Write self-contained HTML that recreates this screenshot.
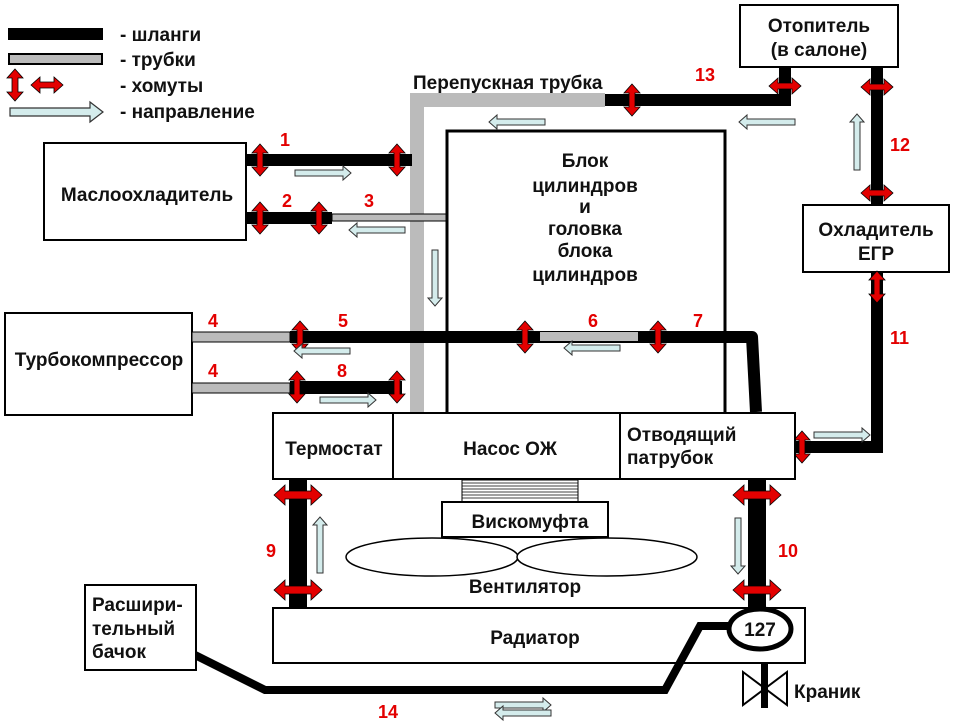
<!DOCTYPE html>
<html><head><meta charset="utf-8"><style>
html,body{margin:0;padding:0;background:#fff}
svg{display:block}
text{font-family:"Liberation Sans",sans-serif;font-weight:bold}
.lb{font-size:19px;fill:#111}
.rd{font-size:18px;fill:#e30000}
.b{fill:#fff;stroke:#000;stroke-width:2}
</style></head><body>
<svg width="960" height="725" viewBox="0 0 960 725" xmlns="http://www.w3.org/2000/svg">
<defs>
<polygon id="cv" points="0,-16 8,-7 3,-7 3,7 8,7 0,16 -8,7 -3,7 -3,-7 -8,-7" fill="#e30000" stroke="#000" stroke-width="0.8"/>
<polygon id="ch" points="-16,0 -7,-8 -7,-3 7,-3 7,-8 16,0 7,8 7,3 -7,3 -7,8" fill="#e30000" stroke="#000" stroke-width="0.8"/>
<polygon id="chb" points="-24,0 -13,-10 -13,-4 13,-4 13,-10 24,0 13,10 13,4 -13,4 -13,10" fill="#e30000" stroke="#000" stroke-width="0.8"/>
<polygon id="ar" points="0,-3 48,-3 48,-7 56,0 48,7 48,3 0,3" fill="#d4ecec" stroke="#333" stroke-width="1"/>
</defs>

<!-- legend -->
<rect x="8" y="28" width="95" height="12" fill="#000"/>
<rect x="9" y="54" width="93" height="10" fill="#bbb" stroke="#000" stroke-width="2"/>
<use href="#cv" x="15" y="85"/>
<use href="#ch" x="47" y="85"/>
<polygon points="10,108 90,108 90,102 103,112 90,122 90,116 10,116" fill="#d4ecec" stroke="#333" stroke-width="1.2"/>
<text class="lb" x="120" y="41">- шланги</text>
<text class="lb" x="120" y="66">- трубки</text>
<text class="lb" x="120" y="92">- хомуты</text>
<text class="lb" x="120" y="118">- направление</text>

<!-- bypass pipe -->
<path d="M417,412 L417,100 L605,100" fill="none" stroke="#bbb" stroke-width="14"/>
<text class="lb" x="413" y="89">Перепускная трубка</text>
<path d="M605,100 L785,100 L785,67" fill="none" stroke="#000" stroke-width="12"/>
<use href="#cv" x="632" y="100"/>
<use href="#ch" x="785" y="86"/>
<text class="rd" x="695" y="81">13</text>

<!-- oil cooler -->
<rect class="b" x="44" y="143" width="202" height="97"/>
<text class="lb" x="147" y="201" text-anchor="middle">Маслоохладитель</text>
<rect x="246" y="154" width="166" height="12" fill="#000"/>
<use href="#cv" x="260" y="160"/>
<use href="#cv" x="397" y="160"/>
<text class="rd" x="280" y="146">1</text>
<use href="#ar" x="295" y="173"/>
<rect x="246" y="212" width="86" height="12" fill="#000"/>
<rect x="332" y="214" width="115" height="7" fill="#bbb" stroke="#000" stroke-width="1"/>
<use href="#cv" x="260" y="218"/>
<use href="#cv" x="319" y="218"/>
<text class="rd" x="282" y="207">2</text>
<text class="rd" x="364" y="207">3</text>
<use href="#ar" transform="translate(405,230) scale(-1,1)"/>

<!-- block -->
<rect x="447" y="131" width="278" height="283" fill="#fff" stroke="#000" stroke-width="3"/>
<text class="lb" x="585" y="167" text-anchor="middle">Блок</text>
<text class="lb" x="585" y="192" text-anchor="middle">цилиндров</text>
<text class="lb" x="585" y="213" text-anchor="middle">и</text>
<text class="lb" x="585" y="235" text-anchor="middle">головка</text>
<text class="lb" x="585" y="257" text-anchor="middle">блока</text>
<text class="lb" x="585" y="281" text-anchor="middle">цилиндров</text>
<use href="#ar" transform="translate(545,122) scale(-1,1)"/>
<use href="#ar" transform="translate(795,122) scale(-1,1)"/>
<use href="#ar" transform="translate(435,250) rotate(90)"/>

<!-- heater -->
<rect class="b" x="740" y="5" width="158" height="62"/>
<text class="lb" x="819" y="32" text-anchor="middle">Отопитель</text>
<text class="lb" x="819" y="56" text-anchor="middle">(в салоне)</text>
<rect x="871" y="67" width="12" height="138" fill="#000"/>
<use href="#ch" x="877" y="87"/>
<use href="#ch" x="877" y="193"/>
<text class="rd" x="890" y="151">12</text>
<use href="#ar" transform="translate(857,170) rotate(-90)"/>
<rect class="b" x="803" y="205" width="146" height="67"/>
<text class="lb" x="876" y="236" text-anchor="middle">Охладитель</text>
<text class="lb" x="876" y="260" text-anchor="middle">ЕГР</text>
<path d="M877,272 L877,447 L792,447" fill="none" stroke="#000" stroke-width="12"/>
<use href="#cv" x="877" y="287"/>
<use href="#cv" x="802" y="447"/>
<text class="rd" x="890" y="344">11</text>
<use href="#ar" x="814" y="435"/>

<!-- turbo -->
<rect class="b" x="5" y="313" width="187" height="102"/>
<text class="lb" x="99" y="366" text-anchor="middle">Турбокомпрессор</text>
<rect x="192" y="332" width="98" height="10" fill="#bbb" stroke="#000" stroke-width="1"/>
<path d="M290,337 L752,337 L756,412" fill="none" stroke="#000" stroke-width="12" stroke-linejoin="round"/>
<rect x="540" y="332" width="98" height="9" fill="#bbb"/>
<use href="#cv" x="300" y="337"/>
<use href="#cv" x="525" y="337"/>
<use href="#cv" x="658" y="337"/>
<text class="rd" x="208" y="327">4</text>
<text class="rd" x="338" y="327">5</text>
<text class="rd" x="588" y="327">6</text>
<text class="rd" x="693" y="327">7</text>
<use href="#ar" transform="translate(350,351) scale(-1,1)"/>
<use href="#ar" transform="translate(620,348) scale(-1,1)"/>
<rect x="192" y="383" width="98" height="10" fill="#bbb" stroke="#000" stroke-width="1"/>
<rect x="290" y="381" width="112" height="13" fill="#000"/>
<use href="#cv" x="297" y="387"/>
<use href="#cv" x="397" y="387"/>
<text class="rd" x="208" y="377">4</text>
<text class="rd" x="337" y="377">8</text>
<use href="#ar" x="320" y="400"/>

<!-- bottom row -->
<rect x="273" y="413" width="120" height="66" class="b" stroke-width="3"/>
<rect x="393" y="413" width="227" height="66" class="b" stroke-width="3"/>
<rect x="620" y="413" width="175" height="66" class="b" stroke-width="3"/>
<text class="lb" x="334" y="455" text-anchor="middle">Термостат</text>
<text class="lb" x="510" y="455" text-anchor="middle">Насос ОЖ</text>
<text class="lb" x="627" y="441">Отводящий</text>
<text class="lb" x="627" y="464">патрубок</text>

<!-- viscous -->
<rect x="462" y="480" width="116" height="22" fill="#fff" stroke="#000" stroke-width="1"/>
<g stroke="#000" stroke-width="0.8">
<line x1="462" y1="483" x2="578" y2="483"/><line x1="462" y1="486" x2="578" y2="486"/>
<line x1="462" y1="489" x2="578" y2="489"/><line x1="462" y1="492" x2="578" y2="492"/>
<line x1="462" y1="495" x2="578" y2="495"/><line x1="462" y1="498" x2="578" y2="498"/>
</g>
<rect class="b" x="442" y="502" width="166" height="35"/>
<text class="lb" x="530" y="528" text-anchor="middle">Вискомуфта</text>
<ellipse cx="432" cy="557" rx="86" ry="19" fill="#fff" stroke="#000" stroke-width="1.5"/>
<ellipse cx="607" cy="557" rx="90" ry="19" fill="#fff" stroke="#000" stroke-width="1.5"/>
<text class="lb" x="525" y="593" text-anchor="middle">Вентилятор</text>

<!-- hoses 9,10 -->
<rect x="289" y="479" width="18" height="130" fill="#000"/>
<use href="#chb" x="298" y="495"/>
<use href="#chb" x="298" y="590"/>
<text class="rd" x="266" y="557">9</text>
<use href="#ar" transform="translate(320,573) rotate(-90)"/>
<rect x="748" y="479" width="18" height="130" fill="#000"/>
<use href="#chb" x="757" y="495"/>
<use href="#chb" x="757" y="590"/>
<text class="rd" x="778" y="557">10</text>
<use href="#ar" transform="translate(738,518) rotate(90)"/>

<!-- radiator -->
<rect class="b" x="273" y="608" width="532" height="55"/>
<text class="lb" x="535" y="644" text-anchor="middle">Радиатор</text>
<path d="M730,626 L700,626 L665,690 L265,690 L195,655" fill="none" stroke="#000" stroke-width="8" stroke-linejoin="miter"/>
<ellipse cx="760" cy="629" rx="31" ry="20" fill="#fff" stroke="#000" stroke-width="5"/>
<text class="lb" x="760" y="636" text-anchor="middle" font-size="18">127</text>
<rect class="b" x="85" y="585" width="111" height="85"/>
<text class="lb" x="92" y="611">Расшири-</text>
<text class="lb" x="92" y="635">тельный</text>
<text class="lb" x="92" y="658">бачок</text>
<text class="rd" x="378" y="718">14</text>
<use href="#ar" x="495" y="705"/>
<use href="#ar" transform="translate(551,713) scale(-1,1)"/>
<!-- valve -->
<rect x="761" y="662" width="7" height="46" fill="#000"/>
<polygon points="743,672 787,705 787,672 743,705" fill="none" stroke="#000" stroke-width="2"/>
<text class="lb" x="794" y="698">Краник</text>
</svg>
</body></html>
